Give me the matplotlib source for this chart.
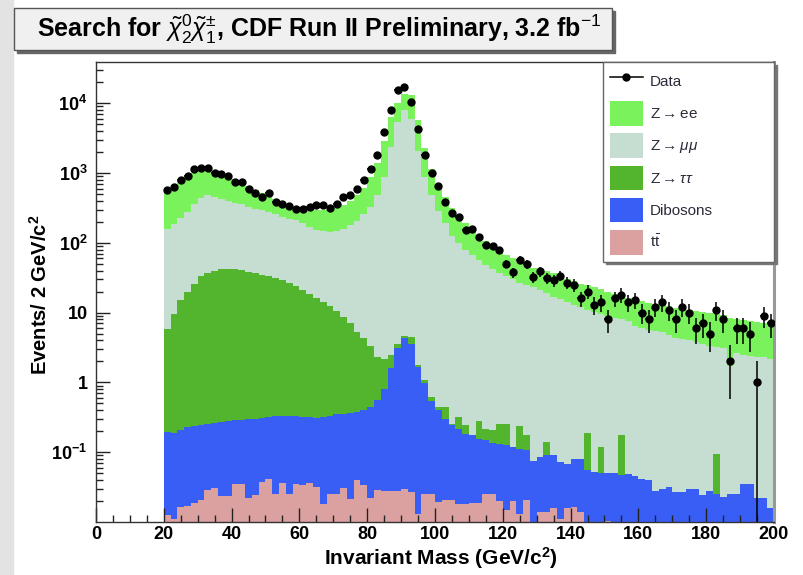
import matplotlib.pyplot as plt
import numpy as np
from matplotlib.lines import Line2D
from matplotlib.patches import Patch, Rectangle
from matplotlib.ticker import LogLocator, MultipleLocator, NullFormatter

plt.rcParams["font.family"] = ["Liberation Sans", "DejaVu Sans"]
plt.rcParams["mathtext.fontset"] = "custom"
plt.rcParams["mathtext.rm"] = "Liberation Sans"
plt.rcParams["mathtext.it"] = "Liberation Sans:italic"
plt.rcParams["mathtext.bf"] = "Liberation Sans:bold"

# 2 GeV bins from 20 to 200 GeV/c^2
bin_edges = np.arange(20, 202, 2)
bin_centers = bin_edges[:-1] + 1

# observed events per bin
data_counts = [
    563, 628, 783, 894, 1153, 1192, 1192, 997, 955, 903,
    741, 741, 596, 515, 451, 515, 383, 363, 335, 301,
    308, 325, 351, 343, 314, 363, 451, 478, 596, 783,
    1153, 1788, 3853, 8070, 15250, 17000, 10370, 4313, 1828, 997,
    643, 383, 267, 233, 151, 159, 121, 92, 89, 78,
    50, 38, 57, 49, 32, 39, 31, 29, 34, 27,
    25, 16, 20, 13, 14, 8, 16, 18, 14, 15,
    10, 8, 12, 14, 11, 8, 12, 10, 6, 7,
    5, 11, 8, 2, 6, 6, 5, 1, 9, 7,
]

# stacked histogram tops (each layer includes everything below it)
stack_zee = [
    590, 650, 760, 880, 1000, 1100, 1120, 1060, 980, 900,
    810, 730, 650, 580, 520, 470, 425, 390, 360, 335,
    318, 305, 298, 296, 300, 318, 350, 400, 490, 620,
    870, 1400, 2900, 6300, 10000, 13700, 13000, 5700, 2300, 1150,
    700, 460, 320, 245, 190, 155, 128, 106, 90, 78,
    68, 60, 54, 48, 44, 42, 39, 37, 32, 30,
    28, 26, 24.5, 23, 21.5, 20, 18.5, 17, 16, 15,
    14.5, 13.8, 13.3, 12.9, 12.4, 11.8, 11.4, 11, 10.6, 10.2,
    9.8, 9.5, 9.1, 8.4, 8.2, 7.9, 7.6, 7.3, 7.1, 6.9,
]
stack_zmumu = [
    159, 188, 225, 280, 355, 440, 478, 455, 428, 396,
    371, 355, 325, 308, 291, 275, 255, 235, 221, 209,
    190, 170, 155, 147, 143, 147, 159, 180, 205, 255,
    330, 480, 880, 2350, 5300, 8000, 6000, 2100, 880, 480,
    290, 190, 125, 100, 78, 66, 56, 48, 42, 37,
    33, 30, 27, 25, 23, 21, 19, 17, 15.5, 14,
    13, 12, 11, 10.2, 9.5, 9, 8.5, 8, 7.5, 6.5,
    6, 5.6, 5.4, 5.2, 4.8, 4.4, 4.2, 4, 3.8, 3.5,
    3.3, 3.2, 3.1, 1.7, 2.6, 2.5, 2.4, 2.3, 2.3, 2.2,
]
stack_ztautau = [
    5.9, 9.6, 15, 19.7, 26, 33, 37, 39, 42, 42,
    42, 41, 38, 37, 35, 33, 31, 29, 26.5, 23.7,
    20.8, 18.7, 16.3, 14.1, 12.3, 10.5, 8.8, 7.1, 5.3, 4.4,
    3.3, 2.3, 2.2, 2.5, 3.6, 4.7, 4.5, 1.75, 1.1, 0.62,
    0.44, 0.44, 0.256, 0.318, 0.242, 0.174, 0.279, 0.217, 0.205, 0.256,
    0.256, 0.119, 0.234, 0.174, 0.076, 0.085, 0.14, 0.09, 0.072, 0.068,
    0.081, 0.079, 0.188, 0.052, 0.119, 0.05, 0.05, 0.178, 0.048, 0.045,
    0.042, 0.04, 0.028, 0.03, 0.032, 0.027, 0.027, 0.03, 0.03, 0.024,
    0.028, 0.095, 0.023, 0.025, 0.025, 0.035, 0.035, 0.022, 0.022, 0.016,
]
stack_diboson = [
    0.194, 0.188, 0.205, 0.229, 0.234, 0.242, 0.256, 0.261, 0.27, 0.279,
    0.285, 0.29, 0.301, 0.301, 0.312, 0.318, 0.326, 0.326, 0.333, 0.326,
    0.318, 0.318, 0.312, 0.318, 0.326, 0.348, 0.356, 0.366, 0.375, 0.406,
    0.443, 0.552, 0.81, 1.6, 3.1, 4.3, 3.5, 1.66, 0.97, 0.55,
    0.4, 0.3, 0.242, 0.217, 0.184, 0.174, 0.156, 0.148, 0.135, 0.129,
    0.125, 0.119, 0.112, 0.106, 0.076, 0.085, 0.09, 0.09, 0.072, 0.068,
    0.081, 0.079, 0.055, 0.052, 0.05, 0.05, 0.05, 0.047, 0.048, 0.045,
    0.042, 0.04, 0.028, 0.03, 0.032, 0.027, 0.027, 0.03, 0.03, 0.024,
    0.028, 0.025, 0.023, 0.025, 0.025, 0.035, 0.035, 0.022, 0.022, 0.016,
]
stack_ttbar = [
    0.0124, 0.011, 0.0164, 0.0168, 0.0187, 0.0204, 0.0284, 0.031, 0.0233, 0.0233,
    0.0353, 0.0353, 0.0223, 0.024, 0.0373, 0.0417, 0.0254, 0.036, 0.0254, 0.035,
    0.034, 0.036, 0.0316, 0.0183, 0.0254, 0.0254, 0.031, 0.0216, 0.04, 0.0334,
    0.0223, 0.0284, 0.028, 0.028, 0.028, 0.03, 0.027, 0.0131, 0.025, 0.025,
    0.0194, 0.021, 0.021, 0.018, 0.018, 0.019, 0.019, 0.025, 0.025, 0.02,
    0.0147, 0.02, 0.0131, 0.021, 0.0, 0.0139, 0.0139, 0.0161, 0.011, 0.016,
    0.0165, 0.014, 0.0, 0.0, 0.0, 0.0105, 0.0, 0.0, 0.0, 0.0,
    0.0, 0.0, 0.0, 0.0, 0.0, 0.0, 0.0, 0.0, 0.0, 0.0,
    0.0, 0.0, 0.0, 0.0, 0.0, 0.0, 0.0, 0.0, 0.0, 0.0,
]

labels = ["Z$\\rightarrow$ee", "Z$\\rightarrow\\mu\\mu$", "Z$\\rightarrow\\tau\\tau$",
          "Dibosons", "t$\\bar{\\rm t}$"]
colors = ["#7af25c", "#c5ded1", "#53b52d", "#385ef6", "#dba1a0"]
stacks = [stack_zee, stack_zmumu, stack_ztautau, stack_diboson, stack_ttbar]

# canvas, sized in pixels
fig = plt.figure(figsize=(8.04, 5.75), dpi=100)
fig.patches.append(Rectangle((0, 0), 13 / 804, 1, transform=fig.transFigure,
                             color="#e3e3e3", zorder=0))

ax = fig.add_axes([96 / 804, 1 - 522 / 575, 678 / 804, 460 / 575])
ax.set_yscale("log")
ax.set_xlim(0, 200)
ax.set_ylim(1e-2, 3.9e4)

# stacked histograms, tallest first
floor = 1e-3
for top, color in zip(stacks, colors):
    ax.stairs(np.maximum(top, floor), bin_edges, baseline=floor, fill=True,
              color=color, lw=0)

# data with poisson errors
counts = np.array(data_counts, dtype=float)
ax.errorbar(bin_centers, counts, xerr=1, yerr=np.sqrt(counts), fmt="o",
            color="black", ms=5, elinewidth=1.1, capsize=0, zorder=4)

# axes in ROOT style
ax.xaxis.set_major_locator(MultipleLocator(20))
ax.xaxis.set_minor_locator(MultipleLocator(5))
ax.set_yticks([1e-1, 1, 10, 1e2, 1e3, 1e4])
ax.set_yticklabels([r"$\mathbf{10^{-1}}$", "1", "10", r"$\mathbf{10^{2}}$",
                    r"$\mathbf{10^{3}}$", r"$\mathbf{10^{4}}$"])
ax.yaxis.set_minor_locator(LogLocator(base=10, subs=np.arange(2, 10), numticks=20))
ax.yaxis.set_minor_formatter(NullFormatter())
ax.tick_params(which="both", direction="in", top=False, right=False,
               labelsize=13, color="#222222")
ax.tick_params(which="major", length=10, width=1)
ax.tick_params(which="minor", length=5, width=1)
ax.tick_params(axis="x", pad=3)
ax.tick_params(axis="y", pad=6)
for lbl in ax.get_xticklabels() + ax.get_yticklabels():
    lbl.set_fontweight("bold")
for side in ["left", "bottom", "top"]:
    ax.spines[side].set_color("#333333")
    ax.spines[side].set_linewidth(1)
ax.spines["right"].set_color("#999999")
ax.spines["right"].set_linewidth(2.2)

# axis titles
fig.text(441 / 804, 1 - 558 / 575, r"Invariant Mass (GeV/c$^{\mathbf{2}}$)",
         ha="center", va="center", fontsize=15, fontweight="bold")
fig.text(40 / 804, 1 - 295 / 575, r"Events/ 2 GeV/c$^{\mathbf{2}}$",
         ha="center", va="center", rotation=90, fontsize=14.5, fontweight="bold")

# legend, fixed width box in the upper right corner
handles = [Line2D([], [], color="black", marker="o", ms=5, lw=1.1)]
handles += [Patch(facecolor=c, edgecolor="none") for c in colors]
leg = ax.legend(handles, ["Data"] + labels, loc="upper right",
                bbox_to_anchor=(507 / 678, 0, 171 / 678, 1), mode="expand",
                borderaxespad=0, fontsize=11,
                frameon=True, fancybox=False, shadow={"color": "#777777", "alpha": 1},
                handlelength=2.15, handleheight=2.1, labelspacing=0.5,
                handletextpad=0.45, borderpad=0.45, labelcolor="#2a2a3a")
leg.get_frame().set_edgecolor("#666666")
leg.get_frame().set_linewidth(1)
leg.set_zorder(6)

# title box with shadow
fig.patches.append(Rectangle((17 / 804, 1 - 53 / 575), 598 / 804, 42 / 575,
                             transform=fig.transFigure, color="#666666", zorder=1))
fig.patches.append(Rectangle((14 / 804, 1 - 50 / 575), 598 / 804, 42 / 575,
                             transform=fig.transFigure, facecolor="#f0f0f0",
                             edgecolor="#555555", lw=1, zorder=2))
fig.text(37 / 804, 1 - 29 / 575,
         r"Search for $\tilde{\chi}_2^0\tilde{\chi}_1^{\pm}$, CDF Run II Preliminary, 3.2 fb$^{-1}$",
         ha="left", va="center", fontsize=18, fontweight="bold", zorder=3)

fig.savefig("out.png", dpi=100)
